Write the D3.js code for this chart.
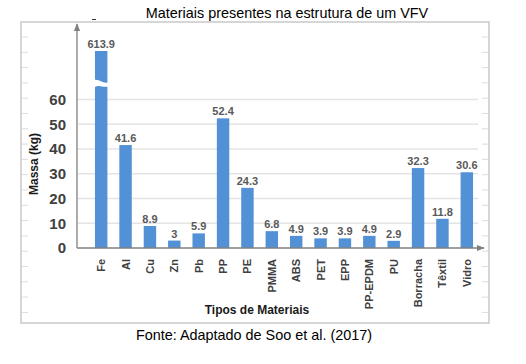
<!DOCTYPE html>
<html>
<head>
<meta charset="utf-8">
<script src="https://cdn.jsdelivr.net/npm/d3@7"></script>
<style>
  html, body { margin: 0; padding: 0; background: #fff; }
  svg { display: block; font-family: "Liberation Sans", Arial, sans-serif; }
</style>
</head>
<body>
<svg id="chart" width="526" height="364"></svg>
<script>
const categories = ["Fe","Al","Cu","Zn","Pb","PP","PE","PMMA","ABS","PET","EPP","PP-EPDM","PU","Borracha","Têxtil","Vidro"];
const values = [613.9, 41.6, 8.9, 3, 5.9, 52.4, 24.3, 6.8, 4.9, 3.9, 3.9, 4.9, 2.9, 32.3, 11.8, 30.6];
const yTicks = [0, 10, 20, 30, 40, 50, 60];
const title = "Materiais presentes na estrutura de um VFV";
const source = "Fonte: Adaptado de Soo et al. (2017)";
const xTitle = "Tipos de Materiais";
const yTitle = "Massa (kg)";

const svg = d3.select("#chart");
const barColor = "#5291d5";

// frame
svg.append("rect").attr("x", 21).attr("y", 22).attr("width", 468).attr("height", 301)
  .attr("fill", "#fff").attr("stroke", "#c9c9c9").attr("stroke-width", 1.5);

// decorative frame ticks
const frameTicks = d3.range(37, 320, 15.3);
svg.append("g").selectAll("line").data(frameTicks).join("line")
  .attr("x1", 22).attr("x2", 28).attr("y1", d => d).attr("y2", d => d)
  .attr("stroke", "#dcdcdc");
svg.append("g").selectAll("line").data(frameTicks).join("line")
  .attr("x1", 482).attr("x2", 488).attr("y1", d => d).attr("y2", d => d)
  .attr("stroke", "#dcdcdc");

// small dash artifact
svg.append("line").attr("x1", 92).attr("x2", 96).attr("y1", 19.5).attr("y2", 19.5)
  .attr("stroke", "#333").attr("stroke-width", 1);

// scales (broken axis: values above 60 compressed)
const x = d3.scaleBand().domain(categories).range([89, 479]).paddingInner(0.49).paddingOuter(0.245);
const y = d3.scaleLinear().domain([0, 60, 613.9]).range([248, 99.5, 51]);

// gridlines
svg.append("g").selectAll("line").data(yTicks.filter(d => d > 0)).join("line")
  .attr("x1", 78).attr("x2", 478).attr("y1", d => y(d)).attr("y2", d => y(d))
  .attr("stroke", "#e4e4e4").attr("stroke-width", 1.5);

// bars
svg.append("g").selectAll("rect").data(values).join("rect")
  .attr("x", (d, i) => x(categories[i]))
  .attr("width", x.bandwidth())
  .attr("y", d => y(d))
  .attr("height", d => y(0) - y(d))
  .attr("fill", barColor);

// break on the Fe bar
{
  const bx = x(categories[0]) - 1, bw = x.bandwidth() + 2;
  const p = d3.path();
  p.moveTo(bx, 80);
  p.bezierCurveTo(bx + bw * 0.45, 79, bx + bw * 0.55, 84, bx + bw, 82.5);
  p.lineTo(bx + bw, 86.5);
  p.bezierCurveTo(bx + bw * 0.55, 88, bx + bw * 0.45, 84, bx, 87.5);
  p.closePath();
  svg.append("path").attr("d", p.toString()).attr("fill", "#fff");
}

// data labels
svg.append("g").selectAll("text").data(values).join("text")
  .attr("x", (d, i) => x(categories[i]) + x.bandwidth() / 2)
  .attr("y", d => y(d) - 3)
  .attr("text-anchor", "middle")
  .attr("font-size", 11).attr("font-weight", "bold").attr("fill", "#595959")
  .text(d => d3.format("")(d));

// axes with arrows
const defs = svg.append("defs");
defs.append("marker").attr("id", "arr").attr("viewBox", "0 0 10 10")
  .attr("refX", 9).attr("refY", 5).attr("markerWidth", 6).attr("markerHeight", 6)
  .attr("orient", "auto")
  .append("path").attr("d", "M0,1 L10,5 L0,9 Z").attr("fill", "#808080");

svg.append("line").attr("x1", 77).attr("x2", 77).attr("y1", y(0)).attr("y2", 24)
  .attr("stroke", "#808080").attr("stroke-width", 1.3).attr("marker-end", "url(#arr)");
svg.append("line").attr("x1", 77).attr("x2", 484).attr("y1", y(0)).attr("y2", y(0))
  .attr("stroke", "#808080").attr("stroke-width", 1.3).attr("marker-end", "url(#arr)");

// y tick labels
svg.append("g").selectAll("text").data(yTicks).join("text")
  .attr("x", 66).attr("y", d => y(d)).attr("dy", "0.36em")
  .attr("text-anchor", "end").attr("font-size", 15).attr("font-weight", "bold").attr("fill", "#404040")
  .text(d => d);

// x tick labels
svg.append("g").selectAll("text").data(categories).join("text")
  .attr("transform", d => `translate(${x(d) + x.bandwidth() / 2},259) rotate(-90)`)
  .attr("dy", "0.36em")
  .attr("text-anchor", "end").attr("font-size", 11).attr("font-weight", "bold").attr("fill", "#404040")
  .text(d => d);

// axis titles
svg.append("text").attr("x", 257).attr("y", 314).attr("text-anchor", "middle")
  .attr("font-size", 12).attr("font-weight", "bold").attr("fill", "#1a1a1a").text(xTitle);
svg.append("text").attr("transform", "translate(37.5,164) rotate(-90)").attr("text-anchor", "middle")
  .attr("font-size", 12).attr("font-weight", "bold").attr("fill", "#1a1a1a").text(yTitle);

// title and source
svg.append("text").attr("x", 287).attr("y", 17.5).attr("text-anchor", "middle")
  .attr("font-size", 14.4).attr("fill", "#000").text(title);
svg.append("text").attr("x", 254).attr("y", 339.7).attr("text-anchor", "middle")
  .attr("font-size", 14.4).attr("fill", "#000").text(source);
</script>
</body>
</html>
